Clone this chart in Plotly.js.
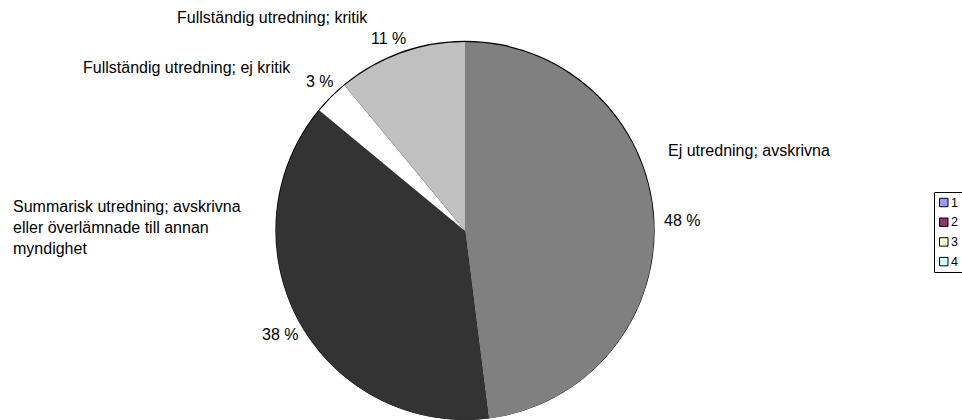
<!DOCTYPE html>
<html>
<head>
<meta charset="utf-8">
<script src="https://cdn.plot.ly/plotly-3.0.1.min.js"></script>
<style>html,body{margin:0;padding:0;background:#fff;}#chart{width:962px;height:420px;}</style>
</head>
<body>
<div id="chart"></div>
<script>
// ---- data ----
const categories = [
  "Ej utredning; avskrivna",
  "Summarisk utredning; avskrivna<br>eller överlämnade till annan<br>myndighet",
  "Fullständig utredning; ej kritik",
  "Fullständig utredning; kritik"
];
const values = [48, 38, 3, 11];
const sliceColors = ["#808080", "#333333", "#FFFFFF", "#C0C0C0"];
const legendNames = ["1", "2", "3", "4"];
const legendColors = ["#9999FF", "#993366", "#FFFFCC", "#CCFFFF"];

// ---- layout helpers (pixel -> paper) ----
const W = 962, H = 420;
const px = x => x / W;
const py = y => 1 - y / H;

const cx = 465, cy = 231, r = 189;
const dom = rr => ({x: [px(cx - rr), px(cx + rr)], y: [py(cy + rr), py(cy - rr)]});

const total = values.reduce((a, b) => a + b, 0);
const pct = values.map(v => Math.round(v / total * 100) + " %");

const FONT = "Liberation Sans, Arial, sans-serif";

// outline pie (thin black ring behind)
const ring = {
  type: "pie", values: [1], labels: ["ring"], sort: false,
  marker: {colors: ["#000000"], line: {width: 0}},
  textinfo: "none", hoverinfo: "skip", showlegend: false,
  domain: dom(r + 1.3)
};
const pie = {
  type: "pie", values: values, labels: categories, sort: false,
  direction: "clockwise", rotation: 0,
  marker: {colors: sliceColors, line: {width: 0}},
  textinfo: "none", showlegend: false,
  domain: dom(r)
};

// label positions (pixel coords) for name and percentage of each slice
const namePos = [[667, 150, "middle"], [12, 197, "top"], [82, 67, "middle"], [176, 18, "middle"]];
const pctPos = [[663, 220], [261, 334], [305, 82], [370, 38]];

const annotations = [];
categories.forEach((c, i) => {
  annotations.push({
    xref: "paper", yref: "paper", x: px(namePos[i][0]), y: py(namePos[i][1]),
    xanchor: "left", yanchor: namePos[i][2], align: "left", showarrow: false,
    text: c, font: {family: FONT, size: 16, color: "#000"}, borderpad: 0
  });
  annotations.push({
    xref: "paper", yref: "paper", x: px(pctPos[i][0]), y: py(pctPos[i][1]),
    xanchor: "left", yanchor: "middle", showarrow: false,
    text: pct[i], font: {family: FONT, size: 16, color: "#000"}, borderpad: 0
  });
});

// custom legend (Excel-style box at right edge)
const shapes = [{
  type: "rect", xref: "paper", yref: "paper",
  x0: px(934.5), x1: px(975), y0: py(272.5), y1: py(192.5),
  line: {color: "#000", width: 1}, fillcolor: "rgba(0,0,0,0)"
}];
legendNames.forEach((n, i) => {
  const yc = 202.5 + i * 19.7;
  shapes.push({
    type: "rect", xref: "paper", yref: "paper",
    x0: px(939.5), x1: px(948), y0: py(yc + 4.2), y1: py(yc - 4.2),
    line: {color: "#000", width: 1}, fillcolor: legendColors[i]
  });
  annotations.push({
    xref: "paper", yref: "paper", x: px(949.5), y: py(yc),
    xanchor: "left", yanchor: "middle", showarrow: false,
    text: n, font: {family: FONT, size: 12.5, color: "#000"}, borderpad: 0
  });
});

const layout = {
  width: W, height: H,
  margin: {l: 0, r: 0, t: 0, b: 0},
  paper_bgcolor: "#fff", plot_bgcolor: "#fff",
  showlegend: false,
  annotations: annotations,
  shapes: shapes,
  font: {family: FONT}
};

Plotly.newPlot("chart", [ring, pie], layout, {staticPlot: true, displayModeBar: false});
</script>
</body>
</html>
